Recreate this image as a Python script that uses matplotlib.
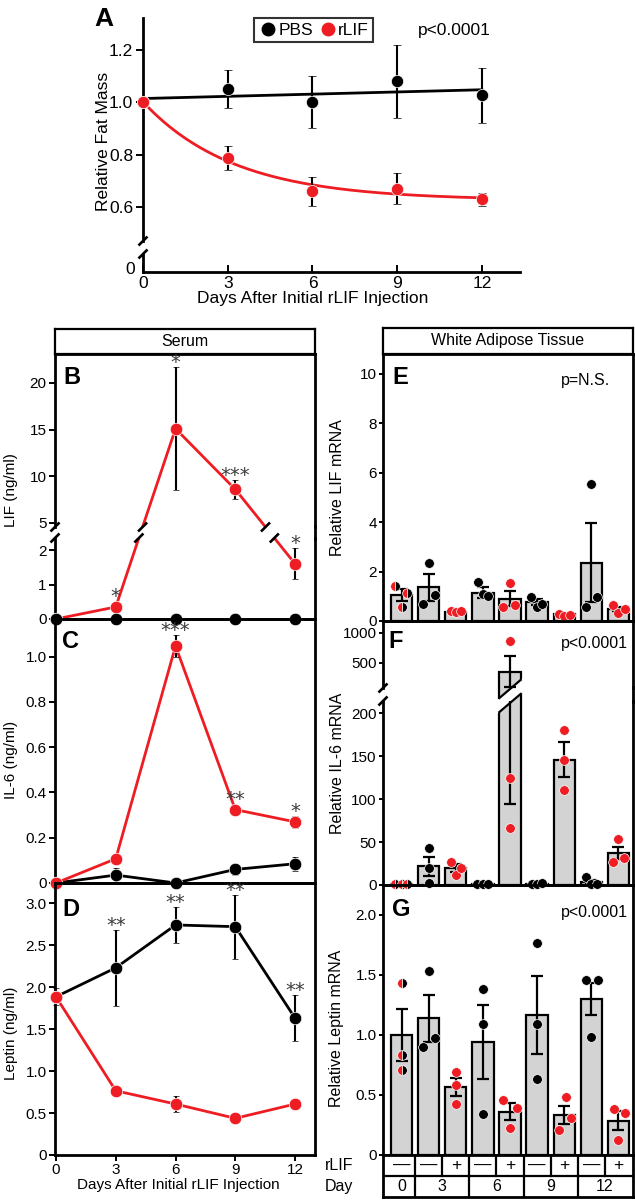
import numpy as np
import matplotlib
matplotlib.use('Agg')
import matplotlib.pyplot as plt
from matplotlib.lines import Line2D
from matplotlib.patches import Polygon

plt.rcParams['font.family'] = ['Liberation Sans', 'DejaVu Sans']
plt.rcParams['font.size'] = 11
plt.rcParams['axes.linewidth'] = 1.6
plt.rcParams['xtick.major.width'] = 1.4
plt.rcParams['ytick.major.width'] = 1.4

RED = '#ee1d23'
GREY = '#d3d3d3'
STAR = '#3c3c3c'

# ---------------- data ----------------
days = [0, 3, 6, 9, 12]

# A  relative fat mass
fat_pbs = [1.0, 1.05, 1.0, 1.08, 1.027]
fat_pbs_err = [0, 0.072, 0.10, 0.14, 0.105]
fat_rlif = [1.0, 0.786, 0.659, 0.669, 0.629]
fat_rlif_err = [0, 0.047, 0.057, 0.06, 0.025]

# B  serum LIF (ng/ml)
lif_pbs = [0, 0, 0, 0, 0]
lif_pbs_err = [0, 0, 0, 0, 0]
lif_rlif = [0, 0.35, 15.1, 8.6, 1.6]
lif_rlif_err = [0, 0.05, 6.6, 1.05, 0.45]
lif_stars = ['', '*', '*', '***', '*']

# C  serum IL-6 (ng/ml)
il6_pbs = [0, 0.035, 0.0, 0.06, 0.085]
il6_pbs_err = [0, 0.03, 0.005, 0.025, 0.03]
il6_rlif = [0, 0.107, 1.047, 0.324, 0.27]
il6_rlif_err = [0, 0.01, 0.05, 0.015, 0.025]
il6_stars = ['', '', '***', '**', '*']

# D  serum leptin (ng/ml)
lep_pbs = [1.885, 2.23, 2.74, 2.72, 1.63]
lep_pbs_err = [0.1, 0.45, 0.21, 0.38, 0.27]
lep_rlif = [1.885, 0.765, 0.607, 0.437, 0.607]
lep_rlif_err = [0, 0.02, 0.09, 0.02, 0.02]
lep_stars = ['', '**', '**', '**', '**']

# E-G  white adipose tissue mRNA, one bar per group
bar_day = [0, 3, 3, 6, 6, 9, 9, 12, 12]
bar_rlif = [False, False, True, False, True, False, True, False, True]

lifm_mean = [1.04, 1.36, 0.37, 1.15, 0.91, 0.75, 0.27, 2.36, 0.48]
lifm_sem = [0.25, 0.54, 0.03, 0.21, 0.30, 0.12, 0.03, 1.6, 0.09]
lifm_pts = [[1.42, 1.15, 0.55], [2.36, 0.68, 1.05], [0.40, 0.35, 0.40],
            [1.56, 1.09, 1.02], [1.52, 0.58, 0.64], [0.98, 0.58, 0.68],
            [0.30, 0.22, 0.25], [5.54, 0.55, 0.99], [0.64, 0.32, 0.48]]

il6m_mean = [1, 21.6, 19.4, 1, 353, 1.5, 146, 3.5, 37]
il6m_sem = [0.3, 11.5, 4.5, 0.3, 259, 0.5, 20.5, 2.5, 7]
il6m_pts = [[1, 1, 1], [43.5, 19.4, 2], [27, 11.6, 19.4],
            [1, 1, 1], [867, 125, 66], [1, 1, 2],
            [181, 146, 111], [9.7, 1, 1], [53, 27, 31]]

lepm_mean = [1.0, 1.14, 0.564, 0.944, 0.361, 1.167, 0.333, 1.30, 0.286]
lepm_sem = [0.22, 0.195, 0.075, 0.31, 0.07, 0.325, 0.075, 0.135, 0.08]
lepm_pts = [[1.436, 0.833, 0.708], [1.536, 0.897, 0.972], [0.694, 0.583, 0.425],
            [1.383, 1.092, 0.339], [0.458, 0.389, 0.222], [1.764, 1.092, 0.631],
            [0.486, 0.306, 0.208], [1.458, 1.458, 0.98], [0.38, 0.347, 0.125]]

# horizontal jitter of the dots inside each bar (style)
jit_E = [[-0.24, 0.19, 0], [0, -0.2, 0.23], [-0.19, 0, 0.19], [-0.19, 0, 0.18],
         [0, -0.26, 0.17], [-0.22, 0, 0.18], [-0.2, 0, 0.2], [0, -0.21, 0.22], [-0.19, 0, 0.24]]
jit_F = [[-0.24, 0, 0.22], [0, 0, 0], [-0.16, 0, 0.2], [-0.2, 0, 0.18],
         [0, 0, 0], [-0.2, 0, 0.18], [0, 0, 0], [-0.2, 0, 0.2], [0, -0.2, 0.2]]
jit_G = [[0, 0, 0], [0, -0.19, 0.25], [0, 0, 0], [0, 0, 0], [-0.25, 0.25, 0],
         [0, 0, 0], [0.05, 0.25, -0.2], [-0.2, 0.25, 0], [-0.15, 0.25, 0]]

# ---------------- layout helpers ----------------
W, H = 635, 1200
fig = plt.figure(figsize=(W / 100, H / 100), dpi=100)


def box(x0, y0, x1, y1):
    return [x0 / W, 1 - y1 / H, (x1 - x0) / W, (y1 - y0) / H]


def fig_line(xs, ys, **kw):
    p = fig.transFigure.inverted().transform(np.column_stack([xs, ys]))
    fig.add_artist(Line2D(p[:, 0], p[:, 1], transform=fig.transFigure, **kw))


def slash(xd, yd, s=4.5):
    fig_line([xd - s, xd + s], [yd - s, yd + s], color='k', lw=1.9, solid_capstyle='butt')


def ftext(x, y, s, **kw):
    fig.text(x / W, 1 - y / H, s, **kw)


def disp(ax, x, y):
    return ax.transData.transform((x, y))


def star(xd, yd, s):
    fig.text(xd / W, (yd - 1) / H, s, ha='center', va='baseline', fontsize=14,
             color=STAR, family='DejaVu Sans')


# ---------------- A ----------------
axA = fig.add_axes(box(143, 18, 520, 241))
axA0 = fig.add_axes(box(143, 254, 520, 272))
for ax in (axA, axA0):
    ax.set_xlim(0, 13.35)
    ax.patch.set_visible(False)
    ax.spines['top'].set_visible(False)
    ax.spines['right'].set_visible(False)
    ax.spines['left'].set_linewidth(2)
    ax.spines['bottom'].set_linewidth(2)
axA.spines['bottom'].set_visible(False)
axA.set_ylim(0.469, 1.323)
axA.set_yticks([0.6, 0.8, 1.0, 1.2], ['0.6', '0.8', '1.0', '1.2'])
axA.tick_params(axis='x', bottom=False, labelbottom=False)
axA.tick_params(axis='y', direction='out', length=5, labelsize=12.5, pad=2)
axA0.set_ylim(-0.286, 1)
axA0.set_yticks([0], ['0'])
axA0.set_xticks(days)
axA0.tick_params(axis='x', direction='in', length=5, labelsize=12.5, pad=3)
axA0.tick_params(axis='y', length=0, labelsize=12.5, pad=6)

xf = np.linspace(0, 12, 200)
axA.plot(xf, np.polyval(np.polyfit(days, fat_pbs, 1), xf), color='k', lw=2, zorder=2)
dd = np.array(days, float)
best = None
for k in np.linspace(0.05, 2, 400):
    X = np.column_stack([np.ones_like(dd), np.exp(-k * dd)])
    coef = np.linalg.lstsq(X, fat_rlif, rcond=None)[0]
    r = np.sum((X @ coef - fat_rlif) ** 2)
    if best is None or r < best[0]:
        best = (r, k, coef)
_, k, coef = best
axA.plot(xf, coef[0] + coef[1] * np.exp(-k * xf), color=RED, lw=2, zorder=2)

mk = dict(fmt='o', ms=8.8, mec='white', mew=0.5, ecolor='k', elinewidth=1.5,
          capsize=3, capthick=1.5, clip_on=False)
axA.errorbar(days, fat_pbs, yerr=fat_pbs_err, color='k', zorder=3, **mk)
axA.errorbar(days, fat_rlif, yerr=fat_rlif_err, color=RED, zorder=4, **mk)

hA = [Line2D([], [], marker='o', ls='', color='k', ms=9),
      Line2D([], [], marker='o', ls='', color=RED, ms=9)]
leg = axA.legend(hA, ['PBS', 'rLIF'], ncol=2, loc='center',
                 bbox_to_anchor=(313.5 / W, 1 - 30 / H), bbox_transform=fig.transFigure,
                 frameon=True, fancybox=False, edgecolor='k', handletextpad=0.05,
                 columnspacing=0.3, handlelength=1.1, borderpad=0.25, fontsize=12.5,
                 borderaxespad=0)
leg.get_frame().set_linewidth(1.5)
ftext(418, 30, 'p<0.0001', ha='left', va='center', fontsize=12.5)
ftext(104, 19, 'A', ha='center', va='center', fontsize=19, fontweight='bold')
ftext(103, 141, 'Relative Fat Mass', rotation=90, ha='center', va='center', fontsize=12.5)
ftext(313, 298, 'Days After Initial rLIF Injection', ha='center', va='center', fontsize=12.5)
xs = disp(axA, 0, 0)[0]
slash(xs, axA.bbox.y0)
slash(xs, axA0.bbox.y1)

# ---------------- B, C, D (serum) ----------------
XL = (-0.05, 13.0)
hdr = fig.add_axes(box(55, 329, 315, 354))
hdr.set_xticks([])
hdr.set_yticks([])
hdr.text(0.5, 0.5, 'Serum', ha='center', va='center', fontsize=11.5, transform=hdr.transAxes)

axBu = fig.add_axes(box(55, 354, 315, 527))
axBl = fig.add_axes(box(55, 538, 315, 619))
axC = fig.add_axes(box(55, 619, 315, 883))
axD = fig.add_axes(box(55, 883, 315, 1155))
for ax in (axBu, axBl, axC, axD):
    ax.set_xlim(*XL)
    ax.patch.set_visible(False)
    for s in ax.spines.values():
        s.set_linewidth(2)
    ax.tick_params(axis='y', direction='out', length=4, labelsize=11, pad=2)
    ax.tick_params(axis='x', bottom=False, labelbottom=False)
axBu.spines['bottom'].set_visible(False)
axBl.spines['top'].set_visible(False)
axBu.set_ylim(4.57, 23.1)
axBu.set_yticks([5, 10, 15, 20])
axBl.set_ylim(0, 2.35)
axBl.set_yticks([0, 1, 2])
axC.set_ylim(0, 1.166)
axC.set_yticks([0, 0.2, 0.4, 0.6, 0.8, 1.0], ['0', '0.2', '0.4', '0.6', '0.8', '1.0'])
axD.set_ylim(0, 3.24)
axD.set_yticks(np.arange(0, 3.01, 0.5), ['0', '0.5', '1.0', '1.5', '2.0', '2.5', '3.0'])
axD.set_xticks(days)
axD.tick_params(axis='x', bottom=True, labelbottom=True, direction='out', length=4,
                labelsize=11, pad=2)

smk = dict(fmt='o', ms=9, mec='white', mew=0.5, ecolor='k', elinewidth=1.5,
           capsize=2.5, capthick=1.5, clip_on=False)
MR = 6  # marker radius in pixels, stars sit above it


def owner(y):
    return axBl if y <= axBl.get_ylim()[1] else axBu


def broken_series(ys, errs, color, z):
    pd = np.array([disp(owner(y), x, y) for x, y in zip(days, ys)])
    for ax in (axBl, axBu):
        yy = ax.transData.inverted().transform(pd)[:, 1]
        ax.plot(days, yy, color=color, lw=2, zorder=z)
        m = np.array([owner(y) is ax for y in ys])
        if m.any():
            ax.errorbar(np.array(days)[m], np.array(ys)[m], yerr=np.array(errs)[m],
                        color=color, zorder=z + 0.5, **smk)
    ylo, yhi = axBl.bbox.y1, axBu.bbox.y0
    for i in range(len(days) - 1):
        a, b = pd[i], pd[i + 1]
        if (a[1] - ylo) * (b[1] - ylo) < 0:
            for yc in (ylo, yhi):
                xc = a[0] + (yc - a[1]) * (b[0] - a[0]) / (b[1] - a[1])
                slash(xc, yc)


broken_series(lif_rlif, lif_rlif_err, RED, 3)
broken_series(lif_pbs, lif_pbs_err, 'k', 5)
slash(axBl.bbox.x0, axBl.bbox.y1)
slash(axBu.bbox.x0, axBu.bbox.y0)
fig_line([axBu.bbox.x1] * 2, [axBl.bbox.y1 - 1, axBu.bbox.y0 + 1], color='k', lw=2)
for x, s, a, ea in zip(days, lif_stars, lif_rlif, lif_rlif_err):
    if s:
        ax = owner(a)
        d = disp(ax, x, a + ea)
        star(d[0], max(d[1], disp(ax, x, a)[1] + MR), s)

for ax, pbs, pe, rl, re_, stars in (
        (axC, il6_pbs, il6_pbs_err, il6_rlif, il6_rlif_err, il6_stars),
        (axD, lep_pbs, lep_pbs_err, lep_rlif, lep_rlif_err, lep_stars)):
    ax.plot(days, pbs, color='k', lw=2, zorder=3, clip_on=False)
    ax.errorbar(days, pbs, yerr=pe, color='k', zorder=3.5, **smk)
    ax.plot(days, rl, color=RED, lw=2, zorder=4, clip_on=False)
    ax.errorbar(days, rl, yerr=re_, color=RED, zorder=4.5, **smk)
    for x, s, a, ea, b, eb in zip(days, stars, pbs, pe, rl, re_):
        if s:
            d = disp(ax, x, max(a + ea, b + eb))
            top_pt = disp(ax, x, max(a, b))[1] + MR
            star(d[0], max(d[1], top_pt), s)

ftext(63, 378, 'B', ha='left', va='center', fontsize=17, fontweight='bold')
ftext(62, 641, 'C', ha='left', va='center', fontsize=17, fontweight='bold')
ftext(62, 909, 'D', ha='left', va='center', fontsize=17, fontweight='bold')
ftext(11, 490, 'LIF (ng/ml)', rotation=90, ha='center', va='center', fontsize=11)
ftext(11, 760, 'IL-6 (ng/ml)', rotation=90, ha='center', va='center', fontsize=11)
ftext(11, 1033, 'Leptin (ng/ml)', rotation=90, ha='center', va='center', fontsize=11)
ftext(178, 1185, 'Days After Initial rLIF Injection', ha='center', va='center', fontsize=11)

# ---------------- E, F, G (white adipose tissue) ----------------
XB = (-0.683, 8.535)
BW = 0.786
xb = np.arange(len(bar_day))

hdr2 = fig.add_axes(box(383, 328, 633, 354))
hdr2.set_xticks([])
hdr2.set_yticks([])
hdr2.text(0.5, 0.5, 'White Adipose Tissue', ha='center', va='center', fontsize=11.5,
          transform=hdr2.transAxes)

axE = fig.add_axes(box(383, 354, 633, 621))
axFu = fig.add_axes(box(383, 621, 633, 688))
axFl = fig.add_axes(box(383, 701, 633, 885))
axG = fig.add_axes(box(383, 885, 633, 1155))
for ax in (axE, axFu, axFl, axG):
    ax.set_xlim(*XB)
    ax.patch.set_visible(False)
    for s in ax.spines.values():
        s.set_linewidth(2)
    ax.tick_params(axis='y', direction='out', length=3, labelsize=11, pad=1.5)
    ax.tick_params(axis='x', bottom=False, labelbottom=False)
axFu.spines['bottom'].set_visible(False)
axFl.spines['top'].set_visible(False)
axE.set_ylim(0, 10.8)
axE.set_yticks([0, 2, 4, 6, 8, 10])
axFu.set_ylim(83, 1200)
axFu.set_yticks([500, 1000])
axFl.set_ylim(0, 214.3)
axFl.set_yticks([0, 50, 100, 150, 200])
axG.set_ylim(0, 2.25)
axG.set_yticks([0, 0.5, 1.0, 1.5, 2.0], ['0', '0.5', '1.0', '1.5', '2.0'])

ebk = dict(fmt='none', ecolor='k', elinewidth=1.6, capsize=4.5, capthick=1.6)


def dots(ax, i, ys, jit, keep=None):
    for y, j in zip(ys, jit):
        if keep is not None and not keep(y):
            continue
        kw = dict(marker='o', ls='', ms=7, mec='white', mew=0.5, zorder=5, clip_on=False)
        if bar_day[i] == 0:
            ax.plot(i + j, y, fillstyle='left', mfc=RED, markerfacecoloralt='k', **kw)
        else:
            ax.plot(i + j, y, mfc=RED if bar_rlif[i] else 'k', **kw)


def bar_panel(ax, mean, sem, pts, jit):
    ax.bar(xb, mean, width=BW, color=GREY, edgecolor='k', lw=1.6, zorder=2)
    ax.errorbar(xb, mean, yerr=sem, zorder=3, **ebk)
    for i in xb:
        dots(ax, i, pts[i], jit[i])


bar_panel(axE, lifm_mean, lifm_sem, lifm_pts, jit_E)
bar_panel(axG, lepm_mean, lepm_sem, lepm_pts, jit_G)

# F with a broken axis
cut = axFl.get_ylim()[1]
lowF = axFl.bar(xb, il6m_mean, width=BW, color=GREY, edgecolor='k', lw=1.6, zorder=2)
axFl.errorbar(xb, il6m_mean, yerr=il6m_sem, zorder=3, **ebk)
for i in xb:
    dots(axFl, i, il6m_pts[i], jit_F[i], keep=lambda y: y <= cut)
big = [i for i in xb if il6m_mean[i] > cut]
base = axFu.get_ylim()[0] - 2000
highF = axFu.bar(big, [il6m_mean[i] - base for i in big], bottom=base, width=BW,
                 color=GREY, edgecolor='k', lw=1.6, zorder=2)
axFu.errorbar(big, [il6m_mean[i] for i in big], yerr=[il6m_sem[i] for i in big],
              zorder=3, **ebk)
for i in xb:
    dots(axFu, i, il6m_pts[i], jit_F[i], keep=lambda y: y > cut)

# diagonal cut through the broken bar
yc = (axFu.bbox.y0 + axFl.bbox.y1) / 2 - 1.5
g, slope = 7, 0.85
for i, pu, pl in zip(big, highF.patches, [lowF.patches[i] for i in big]):
    xm = disp(axFl, i, 0)[0]
    hw = disp(axFl, i + BW / 2, 0)[0] - xm + 3
    top = axFu.bbox.y1 + 10
    bot = axFl.bbox.y0 - 10
    up_poly = [(xm - hw, top), (xm + hw, top), (xm + hw, yc + g + slope * hw),
               (xm - hw, yc + g - slope * hw)]
    lo_poly = [(xm - hw, bot), (xm + hw, bot), (xm + hw, yc - g + slope * hw),
               (xm - hw, yc - g - slope * hw)]
    for patch, poly in ((pu, up_poly), (pl, lo_poly)):
        pf = fig.transFigure.inverted().transform(poly)
        clip = Polygon(pf, closed=True, transform=fig.transFigure)
        patch.set_clip_path(clip)
        patch.set_clip_box(None)
    hw2 = hw - 3
    for off in (g, -g):
        fig_line([xm - hw2, xm + hw2], [yc + off - slope * hw2, yc + off + slope * hw2],
                 color='k', lw=1.6)

slash(axFl.bbox.x0, axFl.bbox.y1)
slash(axFu.bbox.x0, axFu.bbox.y0)
fig_line([axFu.bbox.x1] * 2, [axFl.bbox.y1 - 1, axFu.bbox.y0 + 1], color='k', lw=2)

ftext(392, 378, 'E', ha='left', va='center', fontsize=17, fontweight='bold')
ftext(388, 641, 'F', ha='left', va='center', fontsize=17, fontweight='bold')
ftext(392, 909, 'G', ha='left', va='center', fontsize=17, fontweight='bold')
ftext(610, 381, 'p=N.S.', ha='right', va='center', fontsize=11.5)
ftext(628, 643, 'p<0.0001', ha='right', va='center', fontsize=11.5)
ftext(628, 912, 'p<0.0001', ha='right', va='center', fontsize=11.5)
ftext(337, 488, 'Relative LIF mRNA', rotation=90, ha='center', va='center', fontsize=11.5)
ftext(337, 763, 'Relative IL-6 mRNA', rotation=90, ha='center', va='center', fontsize=11.5)
ftext(337, 1028, 'Relative Leptin mRNA', rotation=90, ha='center', va='center', fontsize=11.5)

# treatment / day table under G
axT = fig.add_axes(box(383, 1155, 633, 1197))
axT.set_xlim(*XB)
axT.set_ylim(0, 2)
axT.set_xticks([])
axT.set_yticks([])
for s in axT.spines.values():
    s.set_linewidth(2)
axT.axhline(1, color='k', lw=1.6)
for i in xb[:-1]:
    axT.plot([i + 0.5] * 2, [1, 2], color='k', lw=1.6)
    if bar_day[i] != bar_day[i + 1]:
        axT.plot([i + 0.5] * 2, [0, 1], color='k', lw=1.6)
for i in xb:
    axT.text(i, 1.5, '+' if bar_rlif[i] else '—', ha='center', va='center', fontsize=12.5)
for d in sorted(set(bar_day)):
    idx = [i for i in xb if bar_day[i] == d]
    axT.text(np.mean(idx), 0.5, str(d), ha='center', va='center', fontsize=11.5)
ftext(325, 1166, 'rLIF', ha='left', va='center', fontsize=11.5)
ftext(325, 1187, 'Day', ha='left', va='center', fontsize=11.5)

fig.savefig('out.png', dpi=100)
